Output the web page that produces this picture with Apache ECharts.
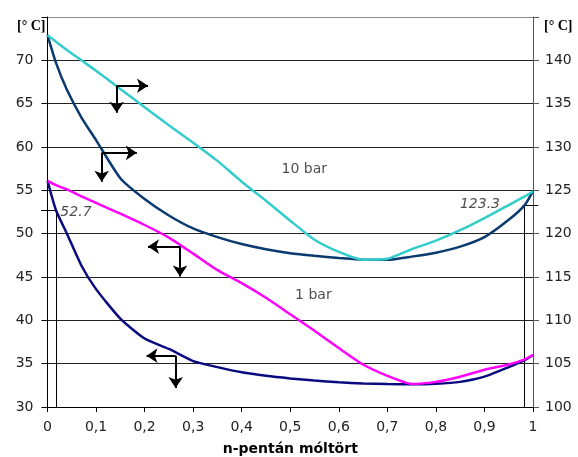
<!DOCTYPE html>
<html>
<head>
<meta charset="utf-8">
<script src="https://cdn.jsdelivr.net/npm/echarts@6/dist/echarts.min.js"></script>
<style>
  html, body { margin: 0; padding: 0; background: #fff; }
  #chart { width: 578px; height: 457px; }
</style>
</head>
<body>
<div id="chart"></div>
<script>
// mole fraction of n-pentane
const moleFraction = [0, 0.0175, 0.04, 0.07, 0.1, 0.15, 0.2, 0.25, 0.3, 0.35, 0.4, 0.45, 0.5, 0.55, 0.6, 0.65, 0.7, 0.75, 0.8, 0.85, 0.9, 0.95, 0.983, 1]

// 1 bar (left axis, °C)
const bubble1bar = [56.1, 52.7, 50.0, 46.3, 43.6, 40.2, 37.9, 36.7, 35.3, 34.6, 34.0, 33.6, 33.3, 33.05, 32.85, 32.72, 32.65, 32.62, 32.68, 32.9, 33.5, 34.6, 35.4, 36.0]
const dew1bar = [56.1, 55.6, 55.1, 54.3, 53.55, 52.3, 51.0, 49.55, 47.7, 45.8, 44.3, 42.6, 40.7, 38.8, 36.8, 34.9, 33.6, 32.66, 32.9, 33.5, 34.3, 34.9, 35.5, 36.0]

// 10 bar (right axis, °C)
const bubble10bar = [142.9, 139.7, 136.6, 133.4, 130.8, 126.4, 124.0, 122.1, 120.6, 119.6, 118.8, 118.2, 117.75, 117.45, 117.2, 117.0, 117.0, 117.35, 117.8, 118.5, 119.6, 121.6, 123.3, 124.9]
const dew10bar = [142.9, 142.15, 141.2, 140.0, 138.8, 136.7, 134.6, 132.5, 130.5, 128.4, 126.0, 123.8, 121.5, 119.3, 117.9, 117.0, 117.1, 118.2, 119.2, 120.4, 121.8, 123.3, 124.3, 124.9]

// marked points: [x, value]
const mark1bar = [0.0175, 52.7]
const mark10bar = [0.983, 123.3]

// arrows in left-axis °C: [x, y, horizontal end x, vertical end y]
const arrows = [
  [0.1425, 67.07, 0.207, 63.95],
  [0.1116, 59.33, 0.184, 55.98],
  [0.273, 48.51, 0.207, 45.05],
  [0.264, 35.92, 0.204, 32.19]
]

// text notes: [x, y (left axis), text, align, style]
const notes = [
  [0.0265, 52.5, '52.7', 'left', 'italic'],
  [0.932, 53.4, '123.3', 'right', 'italic'],
  [0.482, 57.45, '10 bar', 'left', 'normal'],
  [0.51, 42.93, '1 bar', 'left', 'normal']
]

const FONT = 'DejaVu Sans'

function pairs(ys) {
  return moleFraction.map((x, i) => [x, ys[i]])
}

const arrowSegments = []
arrows.forEach(a => {
  arrowSegments.push({ coords: [[a[0], a[1]], [a[2], a[1]]] })
  arrowSegments.push({ coords: [[a[0], a[1]], [a[0], a[3]]] })
})

const dropLines1 = [
  { coords: [[mark1bar[0], 30], [mark1bar[0], mark1bar[1]]] },
  { coords: [[-0.0134, mark1bar[1]], [mark1bar[0], mark1bar[1]]] }
]
const dropLines10 = [
  { coords: [[mark10bar[0], 100], [mark10bar[0], mark10bar[1]]] },
  { coords: [[0.979, mark10bar[1]], [1.011, mark10bar[1]]] }
]

const curve = (name, ys, color, yAxisIndex) => ({
  name,
  type: 'line',
  yAxisIndex,
  data: pairs(ys),
  smooth: 0.2,
  symbol: 'none',
  lineStyle: { color, width: 2.5 },
  z: 3
})

const chart = echarts.init(document.getElementById('chart'))

chart.setOption({
  backgroundColor: '#fff',
  animation: false,
  textStyle: { fontFamily: FONT },
  grid: { left: 47.5, right: 45, top: 17, bottom: 50, containLabel: false, outerBoundsMode: 'none' },
  xAxis: {
    type: 'value',
    min: 0,
    max: 1,
    interval: 0.1,
    name: 'n-pentán móltört',
    nameLocation: 'middle',
    nameGap: 35,
    nameTextStyle: { fontWeight: 'bold', fontSize: 14, color: '#000', fontFamily: FONT },
    axisLine: { lineStyle: { color: '#000', width: 1 } },
    axisTick: { show: true, length: 5, lineStyle: { color: '#000' } },
    axisLabel: {
      margin: 13,
      fontSize: 14,
      color: '#222',
      formatter: v => String(Math.round(v * 10) / 10).replace('.', ',')
    },
    splitLine: { show: false }
  },
  yAxis: [{
    type: 'value',
    min: 30,
    max: 75,
    interval: 5,
    name: '[° C]',
    nameLocation: 'end',
    nameGap: -9,
    nameTextStyle: {
      fontFamily: 'Liberation Serif', fontWeight: 'bold', fontSize: 14, color: '#000',
      align: 'right', verticalAlign: 'middle', padding: [0, 2, 0, 0]
    },
    axisLine: { show: true, lineStyle: { color: '#000' } },
    axisTick: { show: true, length: 6, lineStyle: { color: '#000' } },
    axisLabel: {
      margin: 14, fontSize: 14, color: '#222',
      formatter: v => (v === 75 ? '' : String(v))
    },
    splitLine: {
      show: true,
      lineStyle: { color: ['#000', '#222', '#222', '#222', '#222', '#222', '#222', '#222', '#222', '#888'], width: 1 }
    }
  }, {
    type: 'value',
    min: 100,
    max: 145,
    interval: 5,
    name: '[° C]',
    nameLocation: 'end',
    nameGap: -9,
    nameTextStyle: {
      fontFamily: 'Liberation Serif', fontWeight: 'bold', fontSize: 14, color: '#000',
      align: 'left', verticalAlign: 'middle', padding: [0, 0, 0, 11]
    },
    axisLine: { show: true, lineStyle: { color: '#555' } },
    axisTick: { show: true, length: 6, lineStyle: { color: '#555' } },
    axisLabel: {
      margin: 12, fontSize: 14, color: '#222',
      formatter: v => (v === 145 ? '' : String(v))
    },
    splitLine: { show: false }
  }],
  series: [
    curve('10 bar bubble', bubble10bar, '#0a3a6e', 1),
    curve('10 bar dew', dew10bar, '#33cccc', 1),
    curve('1 bar bubble', bubble1bar, '#0a0a80', 0),
    curve('1 bar dew', dew1bar, '#ff00ff', 0),
    {
      type: 'lines',
      coordinateSystem: 'cartesian2d',
      yAxisIndex: 0,
      clip: false,
      symbol: 'none',
      lineStyle: { color: '#000', width: 1, opacity: 1 },
      data: dropLines1,
      z: 2
    },
    {
      type: 'lines',
      coordinateSystem: 'cartesian2d',
      yAxisIndex: 1,
      clip: false,
      symbol: 'none',
      lineStyle: { color: '#000', width: 1, opacity: 1 },
      data: dropLines10,
      z: 2
    },
    {
      type: 'lines',
      coordinateSystem: 'cartesian2d',
      yAxisIndex: 0,
      clip: false,
      symbol: ['none', 'arrow'],
      symbolSize: [9, 11],
      lineStyle: { color: '#000', width: 2, opacity: 1 },
      itemStyle: { color: '#000' },
      data: arrowSegments,
      z: 4
    },
    {
      type: 'scatter',
      yAxisIndex: 0,
      symbolSize: 0,
      silent: true,
      data: notes.map(n => ({
        value: [n[0], n[1]],
        label: {
          show: true,
          position: 'inside',
          formatter: n[2],
          align: n[3],
          verticalAlign: 'middle',
          fontStyle: n[4],
          fontSize: 14,
          color: '#222',
          fontFamily: FONT
        }
      })),
      z: 5
    }
  ]
})
</script>
</body>
</html>
